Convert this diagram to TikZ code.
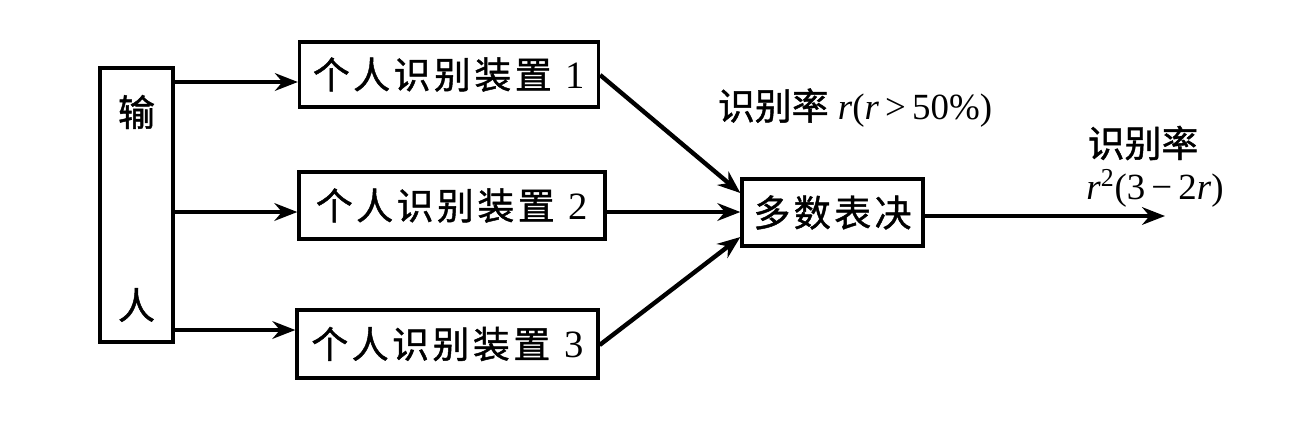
\documentclass[tikz,border=0pt]{standalone}
\usepackage{fontspec}
\setmainfont{Liberation Serif}
\newfontfamily\cjk[FakeBold=1.2]{Noto Sans CJK SC}
\usetikzlibrary{arrows.meta}
\newcommand\cs{\hspace{2pt}}
\newcommand\ds{\hspace{8pt}}
\begin{document}
\begin{tikzpicture}[x=0.02cm,y=-0.02cm,
  box/.style={draw,line width=1.9pt,inner sep=0pt,font=\cjk\fontsize{21pt}{24pt}\selectfont},
  conn/.style={line width=2.5pt,-{Stealth[length=13pt,width=10pt]}},
  lbl/.style={inner sep=0pt,font=\fontsize{21pt}{26pt}\selectfont}]
\useasboundingbox[fill=white] (0,0) rectangle (1300,420);
% input box
\node[box,minimum width=1.46cm,minimum height=5.48cm] (inp) at (136.5,205) {};
\node[lbl,font=\cjk\fontsize{21pt}{24pt}\selectfont] (t1) at (136.5,112) {输};
\node[lbl,font=\cjk\fontsize{21pt}{24pt}\selectfont] (t2) at (136.5,305) {人};
% devices
\node[box,minimum width=5.98cm,minimum height=1.3cm] (b1) at (449,74.5) {个\cs 人\cs 识\cs 别\cs 装\cs 置\ds{\rmfamily\fontsize{22pt}{24pt}\selectfont 1}};
\node[box,minimum width=6.12cm,minimum height=1.34cm] (b2) at (452,205.5) {个\cs 人\cs 识\cs 别\cs 装\cs 置\ds{\rmfamily\fontsize{22pt}{24pt}\selectfont 2}};
\node[box,minimum width=6.02cm,minimum height=1.36cm] (b3) at (447.5,344) {个\cs 人\cs 识\cs 别\cs 装\cs 置\ds{\rmfamily\fontsize{22pt}{24pt}\selectfont 3}};
% majority
\node[box,minimum width=3.62cm,minimum height=1.34cm] (maj) at (832.5,212.5) {多\cs 数\cs 表\cs 决};
% input arrows
\draw[conn] (inp.east |- 0,82) -- (b1.west |- 0,82);
\draw[conn] (inp.east |- 0,212) -- (b2.west |- 0,212);
\draw[conn] (inp.east |- 0,330) -- (b3.west |- 0,330);
% to majority
\draw[conn] (b1.east |- 0,75) -- (maj.west |- 0,193);
\draw[conn] (b2.east |- 0,212) -- (maj.west |- 0,212);
\draw[conn] (b3.east |- 0,345) -- (maj.west |- 0,237);
% output
\coordinate (out) at (1165,216);
\draw[conn] (maj.east |- 0,216) -- (out);
% labels
\node[lbl] (l1) at (855,108) {{\cjk 识别率} \textit{r}(\textit{r}\,>\,50\%)};
\node[lbl] (l2) at (1143,143) {\cjk 识别率};
\node[lbl] (l3) at (1155,188) {\textit{r}\textsuperscript{2}(3\,−\,2\textit{r})};
\end{tikzpicture}
\end{document}
